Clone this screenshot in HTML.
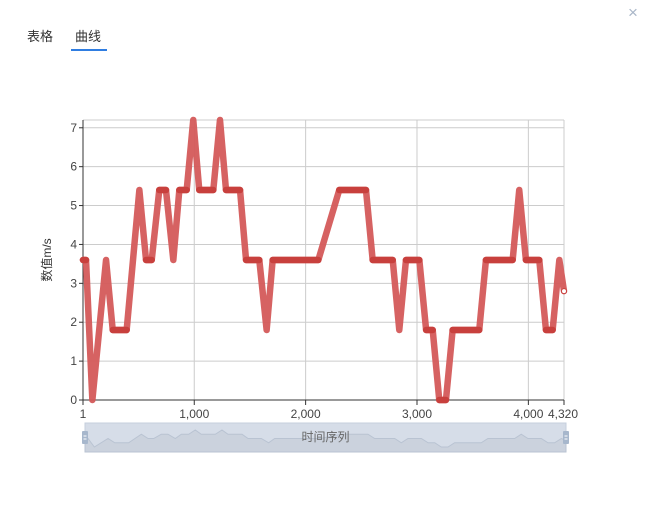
<!DOCTYPE html>
<html><head><meta charset="utf-8">
<style>
body{margin:0;width:651px;height:522px;background:#fff;overflow:hidden;font-family:"Liberation Sans","Noto Sans CJK SC",sans-serif;}
.tab{position:absolute;top:26px;font-size:13px;color:#333;}
</style></head>
<body>
<div class="tab" style="left:27px">表格</div>
<div class="tab" style="left:75px">曲线</div>
<div style="position:absolute;left:71px;top:49px;width:36px;height:2px;background:#2f7de1"></div>
<div style="position:absolute;left:628px;top:3px;font-size:17px;color:#a9b6c8">×</div>
<svg id="chart" width="651" height="522" style="position:absolute;left:0;top:0"></svg>
<script>
const xVals=[1,28,85,208,268,393,507,567,618,686,746,812,866,932,991,1045,1171,1231,1285,1411,1465,1584,1650,1704,2114,2302,2542,2602,2782,2841,2901,3021,3082,3141,3200,3260,3320,3559,3619,3859,3918,3978,4098,4158,4218,4278,4320];
const yVals=[3.6,3.6,0,3.6,1.8,1.8,5.4,3.6,3.6,5.4,5.4,3.6,5.4,5.4,7.2,5.4,5.4,7.2,5.4,5.4,3.6,3.6,1.8,3.6,3.6,5.4,5.4,3.6,3.6,1.8,3.6,3.6,1.8,1.8,0,0,1.8,1.8,3.6,3.6,5.4,3.6,3.6,1.8,1.8,3.6,2.8];
const yTicks=[0,1,2,3,4,5,6,7];
const xTicks=[1,1000,2000,3000,4000,4320];
const xTickLabels=["1","1,000","2,000","3,000","4,000","4,320"];
const yTitle="数值m/s", sliderLabel="时间序列";
const X0=83,X1=564,Y0=400,Y1=120,xMin=1,xMax=4320,yMax=7.2;
const sx=v=>X0+(v-xMin)/(xMax-xMin)*(X1-X0);
const sy=v=>Y0-v/yMax*(Y0-Y1);
const svg=document.getElementById('chart');
const NS='http://www.w3.org/2000/svg';
function mk(t,a,p){const e=document.createElementNS(NS,t);for(const k in a)e.setAttribute(k,a[k]);(p||svg).appendChild(e);return e;}
// grid
yTicks.forEach(t=>{const l=mk('line',{x1:X0,x2:X1,y1:sy(t),y2:sy(t),stroke:'#ccc'});


const tx=mk('text',{x:X0-6,y:sy(t)+4,'text-anchor':'end','font-size':12,fill:'#444'});tx.textContent=t;


mk('line',{x1:X0-4,x2:X0,y1:sy(t),y2:sy(t),stroke:'#333'});});
mk('line',{x1:X0,x2:X1,y1:Y1,y2:Y1,stroke:'#ccc'});
xTicks.forEach((t,i)=>{const x=sx(t);
if(i>0){const g=mk('line',{x1:x,x2:x,y1:Y1,y2:Y0,stroke:'#ccc'});

}
mk('line',{x1:x,x2:x,y1:Y0,y2:Y0+5,stroke:'#333'});
const tx=mk('text',{x:i==xTicks.length-1?x-1:x,y:Y0+18,'text-anchor':'middle','font-size':12,fill:'#444'});tx.textContent=xTickLabels[i];

});
const ax=mk('line',{x1:X0,x2:X0,y1:Y1,y2:Y0,stroke:'#333'});


const bx=mk('line',{x1:X0,x2:X1,y1:Y0,y2:Y0,stroke:'#333'});


const yt=mk('text',{x:0,y:0,transform:'translate(51,260) rotate(-90)','text-anchor':'middle','font-size':12,fill:'#333'});yt.textContent=yTitle;


// series
const pts=xVals.map((v,i)=>sx(v)+','+sy(yVals[i])).join(' ');
const line=mk('polyline',{points:pts,fill:'none',stroke:'#d45a5a','stroke-width':6.5,'stroke-linejoin':'round','stroke-linecap':'round','stroke-opacity':0.95});


for(let i=1;i<xVals.length;i++){if(yVals[i]===yVals[i-1]){const f=mk('line',{x1:sx(xVals[i-1]),x2:sx(xVals[i]),y1:sy(yVals[i]),y2:sy(yVals[i]),stroke:'#c8403d','stroke-width':6.5,'stroke-linecap':'round'});

}}
const endPt=mk('circle',{cx:sx(xVals[xVals.length-1]),cy:sy(yVals[yVals.length-1]),r:2.5,fill:'#fff',stroke:'#c8403d'});


// slider
const SX0=85,SX1=566,ST=423,SB=452;
const sl=mk('rect',{x:SX0,y:ST,width:SX1-SX0,height:SB-ST,fill:'#d6dde8',stroke:'#c5cfdd'});


const ssx=v=>SX0+(v-xMin)/(xMax-xMin)*(SX1-SX0), ssy=v=>SB-5-v/yMax*(SB-ST-12);
const sp=xVals.map((v,i)=>ssx(v)+','+ssy(yVals[i])).join(' ');
const shadow=mk('polygon',{points:SX0+','+SB+' '+sp+' '+SX1+','+SB,fill:'#cbd2dd',stroke:'#b9c3d2','stroke-width':1});


const st=mk('text',{x:(SX0+SX1)/2,y:441,'text-anchor':'middle','font-size':12,fill:'#666'});st.textContent=sliderLabel;


[SX0,SX1].forEach(x=>{const h=mk('rect',{x:x-3,y:431,width:6,height:13,fill:'#a7b7cc',rx:1});


mk('line',{x1:x-1.5,x2:x+1.5,y1:436,y2:436,stroke:'#fff'});mk('line',{x1:x-1.5,x2:x+1.5,y1:439,y2:439,stroke:'#fff'});});
</script>
</body></html>
